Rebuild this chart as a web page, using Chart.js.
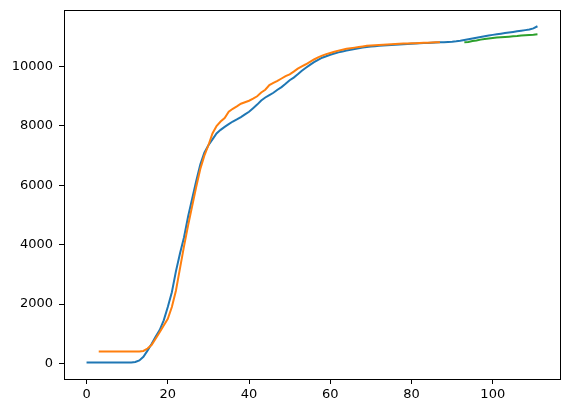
<!DOCTYPE html>
<html>
<head>
<meta charset="utf-8">
<script src="https://cdn.jsdelivr.net/npm/chart.js@4/dist/chart.umd.min.js"></script>
<style>
  html, body { margin: 0; padding: 0; background: #fff; }
  #wrap { width: 569px; height: 413px; }
</style>
</head>
<body>
<div id="wrap"><canvas id="c" width="569" height="413"></canvas></div>
<script>
"use strict";

// first x value of each series (one value per integer step after that)
const blueStart = 0;
const orangeStart = 3;
const greenStart = 93;

const blueValues = [
  30, 30, 30, 30, 30, 30, 30, 30, 30, 30, 30, 30,
  50, 100, 220, 430, 650, 900, 1120, 1450, 1900, 2400,
  3100, 3700, 4250, 4950, 5550, 6150, 6700, 7100, 7350, 7550,
  7750, 7870, 7970, 8060, 8150, 8220, 8300, 8390, 8480, 8600,
  8720, 8860, 8960, 9040, 9120, 9220, 9310, 9420, 9540, 9630,
  9740, 9860, 9960, 10060, 10150, 10230, 10300, 10350, 10400, 10440,
  10480, 10510, 10540, 10570, 10595, 10615, 10640, 10660, 10675, 10690,
  10700, 10710, 10720, 10730, 10740, 10748, 10755, 10762, 10770, 10778,
  10785, 10792, 10800, 10806, 10812, 10818, 10823, 10830, 10840, 10855,
  10875, 10900, 10925, 10950, 10975, 11000, 11025, 11050, 11070, 11090,
  11110, 11130, 11150, 11170, 11190, 11210, 11230, 11250, 11290, 11360
];

const orangeValues = [
  400, 400, 400, 400, 400, 400, 400, 400, 400, 400, 400,
  420, 500, 620, 830, 1050, 1280, 1500, 1900, 2450, 3200,
  3950, 4650, 5300, 5950, 6550, 7000, 7350, 7750, 8000, 8150,
  8270, 8480, 8580, 8660, 8750, 8800, 8850, 8920, 9000, 9130,
  9220, 9380, 9450, 9520, 9600, 9680, 9740, 9830, 9930, 10010,
  10080, 10160, 10240, 10310, 10370, 10420, 10460, 10500, 10540, 10570,
  10600, 10620, 10640, 10660, 10680, 10700, 10712, 10722, 10732, 10740,
  10748, 10755, 10762, 10768, 10775, 10780, 10785, 10790, 10796, 10802,
  10808, 10813, 10818, 10822
];

const greenValues = [
  10820, 10830, 10860, 10880, 10910, 10930, 10950, 10965, 10980, 10990,
  11000, 11010, 11020, 11030, 11045, 11055, 11065, 11075, 11090
];

const xTicks = [0, 20, 40, 60, 80, 100];
const yTicks = [0, 2000, 4000, 6000, 8000, 10000];

const toPoints = (start, vals) => vals.map((v, i) => ({ x: start + i, y: v }));

// axes frame on all four sides, matplotlib style
const frame = {
  id: 'frame',
  afterDraw(chart) {
    const { ctx, chartArea: a } = chart;
    ctx.save();
    ctx.strokeStyle = '#000';
    ctx.lineWidth = 1;
    ctx.strokeRect(Math.round(a.left) + 0.5, Math.round(a.top) + 0.5,
                   Math.round(a.right - a.left), Math.round(a.bottom - a.top));
    ctx.restore();
  }
};

const tickFont = { family: 'DejaVu Sans', size: 13 };

const line = (data, color, order) => ({
  data,
  order,
  borderColor: color,
  backgroundColor: color,
  borderWidth: 2,
  pointRadius: 0,
  tension: 0,
  fill: false
});

new Chart(document.getElementById('c'), {
  type: 'line',
  data: {
    datasets: [
      line(toPoints(blueStart, blueValues), '#1f77b4', 3),
      line(toPoints(orangeStart, orangeValues), '#ff7f0e', 2),
      line(toPoints(greenStart, greenValues), '#2ca02c', 1)
    ]
  },
  options: {
    responsive: false,
    animation: false,
    layout: { padding: { left: 0, top: 10, right: 9, bottom: 0 } },
    plugins: { legend: { display: false }, tooltip: { enabled: false } },
    scales: {
      x: {
        type: 'linear',
        min: -5.55,
        max: 116.55,
        afterBuildTicks: s => { s.ticks = xTicks.map(v => ({ value: v })); },
        afterFit: s => { s.height = 34; s.paddingLeft = 0; s.paddingRight = 0; },
        grid: { display: true, drawOnChartArea: false, tickLength: 5, tickColor: '#000', tickWidth: 1 },
        border: { display: false },
        ticks: { color: '#000', font: tickFont, padding: 3, maxRotation: 0, callback: v => String(v) }
      },
      y: {
        type: 'linear',
        min: -526,
        max: 11908,
        afterBuildTicks: s => { s.ticks = yTicks.map(v => ({ value: v })); },
        afterFit: s => { s.width = 64; s.paddingTop = 0; s.paddingBottom = 0; },
        grid: { display: true, drawOnChartArea: false, tickLength: 5, tickColor: '#000', tickWidth: 1 },
        border: { display: false },
        ticks: { color: '#000', font: tickFont, padding: 6, callback: v => String(v) }
      }
    }
  },
  plugins: [frame]
});
</script>
</body>
</html>
